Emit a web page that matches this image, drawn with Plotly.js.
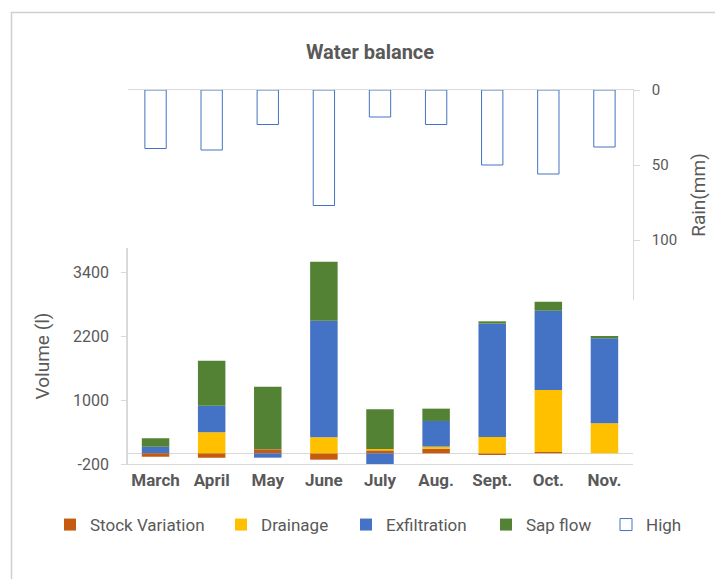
<!DOCTYPE html>
<html>
<head>
<meta charset="utf-8">
<script src="https://cdn.plot.ly/plotly-3.0.1.min.js"></script>
<style>html,body{margin:0;padding:0;background:#fff;}#chart{width:715px;height:579px;}</style>
</head>
<body>
<div id="chart"></div>
<script>
// ---- data ----
var months = ['March', 'April', 'May', 'June', 'July', 'Aug.', 'Sept.', 'Oct.', 'Nov.'];
var stockVariation = [-65, -81, 75, -119, 56, 88, -31, 25, 0];
var drainage = [0, 394, 0, 300, 25, 38, 306, 1162, 562];
var exfiltration = [125, 500, -81, 2188, -215, 481, 2125, 1488, 1594];
var sapFlow = [156, 844, 1175, 1106, 744, 231, 44, 169, 44];
var rain = [39, 40, 23, 77, 18, 23, 50, 56, 38];
var volumeTicks = [-200, 1000, 2200, 3400];
var rainTicks = [0, 50, 100];
var seriesNames = ['Stock Variation', 'Drainage', 'Exfiltration', 'Sap flow', 'High'];

var W = 715, H = 579;
function px(x) { return x / W; }
function py(y) { return 1 - y / H; }

var FONT = 'Roboto, "Open Sans", sans-serif';
var GRAY = '#595959';
var LINE = '#D9D9D9';

var traces = [
  {type: 'bar', name: seriesNames[0], x: months, y: stockVariation, marker: {color: '#C55A11'}, xaxis: 'x', yaxis: 'y', legend: 'legend', showlegend: true},
  {type: 'bar', name: seriesNames[1], x: months, y: drainage, marker: {color: '#FFC000'}, xaxis: 'x', yaxis: 'y', legend: 'legend2', showlegend: true},
  {type: 'bar', name: seriesNames[2], x: months, y: exfiltration, marker: {color: '#4472C4'}, xaxis: 'x', yaxis: 'y', legend: 'legend3', showlegend: true},
  {type: 'bar', name: seriesNames[3], x: months, y: sapFlow, marker: {color: '#548235'}, xaxis: 'x', yaxis: 'y', legend: 'legend4', showlegend: true},
  {type: 'bar', name: seriesNames[4], x: months, y: rain, width: 0.38,
   marker: {color: '#FFFFFF', line: {color: '#4472C4', width: 1}}, xaxis: 'x2', yaxis: 'y2', legend: 'legend5', showlegend: true}
];

var xDom = [px(127.5), px(632.5)];

function legendAt(xPix) {
  return {orientation: 'h', x: px(xPix), xanchor: 'left', y: py(525), yanchor: 'middle',
          font: {family: FONT, size: 17, color: GRAY}, bgcolor: 'rgba(0,0,0,0)'};
}

var layout = {
  width: W, height: H,
  margin: {l: 0, r: 0, t: 0, b: 0},
  paper_bgcolor: '#FFFFFF',
  plot_bgcolor: 'rgba(0,0,0,0)',
  font: {family: FONT, color: GRAY},
  showlegend: true,
  barmode: 'relative',
  bargap: 0.51,
  title: {text: 'Water balance', font: {family: FONT, size: 20, color: GRAY, weight: 'bold'},
          x: px(370), xanchor: 'center', y: py(52), yanchor: 'middle', xref: 'paper', yref: 'paper'},
  xaxis: {domain: xDom, anchor: 'y', type: 'category', showline: true, linecolor: LINE, linewidth: 1.3,
          ticks: '', showgrid: false, tickfont: {family: FONT, size: 17, color: GRAY, weight: 'bold'}, fixedrange: true},
  yaxis: {domain: [py(464), py(248)], anchor: 'x', range: [-200, 3850], tickvals: volumeTicks,
          ticktext: volumeTicks.map(String), showline: true, linecolor: LINE, linewidth: 1.3,
          ticks: 'outside', ticklen: 5, tickcolor: LINE, showgrid: false, ticklabelstandoff: 9,
          zeroline: true, zerolinecolor: LINE, zerolinewidth: 1.3,
          tickfont: {family: FONT, size: 16, color: GRAY},
          title: {text: 'Volume (l)', font: {family: FONT, size: 19, color: GRAY}, standoff: 18}},
  xaxis2: {domain: xDom, anchor: 'y2', type: 'category', side: 'top', showline: true, linecolor: LINE, linewidth: 1.3,
           showticklabels: false, ticks: '', showgrid: false, matches: 'x'},
  yaxis2: {domain: [py(300), py(90)], anchor: 'x2', side: 'right', range: [140, 0], tickvals: rainTicks,
           showline: true, linecolor: LINE, linewidth: 1.3, ticks: 'outside', ticklen: 6, tickcolor: LINE,
           ticklabelstandoff: 9, showgrid: false, zeroline: false, tickfont: {family: FONT, size: 15, color: GRAY},
           title: {text: 'Rain(mm)', font: {family: FONT, size: 19, color: GRAY}, standoff: 15}},
  legend: legendAt(50),
  legend2: legendAt(221),
  legend3: legendAt(346),
  legend4: legendAt(486),
  legend5: legendAt(606),
  shapes: [{type: 'rect', xref: 'paper', yref: 'paper', x0: px(11.5), y0: py(12.5), x1: 1.05, y1: -0.05,
            line: {color: '#CFCFCF', width: 1.5}, fillcolor: 'rgba(0,0,0,0)'}]
};

Plotly.newPlot('chart', traces, layout, {displayModeBar: false, staticPlot: true});
</script>
</body>
</html>
